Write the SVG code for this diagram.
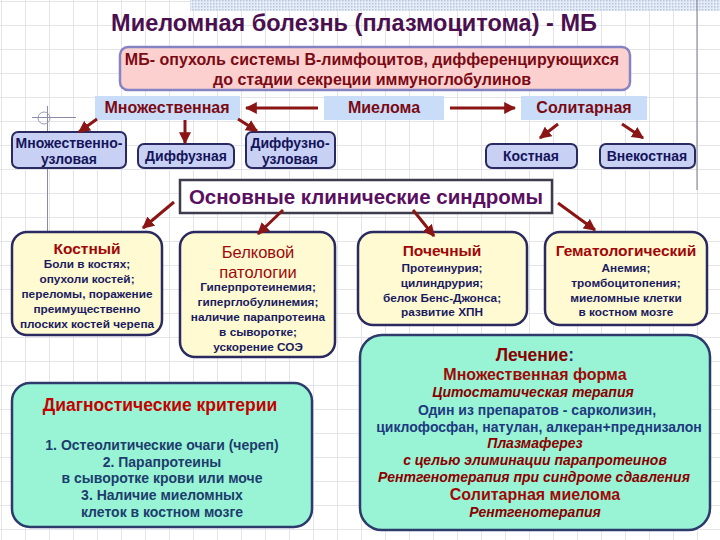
<svg xmlns="http://www.w3.org/2000/svg" width="720" height="540" viewBox="0 0 720 540">
<defs>
<pattern id="grid" width="24" height="24" patternUnits="userSpaceOnUse" x="1" y="1">
<path d="M0 0.5H24M0.5 0V24" stroke="#e4e4ea" stroke-width="1" fill="none"/>
</pattern>
<pattern id="dots" width="3" height="3" patternUnits="userSpaceOnUse">
<rect width="3" height="3" fill="#e6ecf6"/>
<rect width="1.5" height="1.5" fill="#b4c4de"/>
</pattern>
<marker id="ah" viewBox="0 0 10 10" refX="9" refY="5" markerWidth="4" markerHeight="4" orient="auto">
<path d="M0 0L10 5L0 10z" fill="#8b1414"/>
</marker>
<style>
.t{font-family:"Liberation Sans",Arial,sans-serif;text-anchor:middle;font-weight:bold}
.title{font-size:23.5px;fill:#4b0f4f}
.def{font-size:16px;fill:#7a0a14}
.lab{font-size:16px;fill:#7a0a14}
.sub{font-size:14px;fill:#14145a}
.hdr{font-size:20.5px;fill:#5a0f5f}
.st{font-size:15.5px;fill:#a00808}
.sb{font-size:11.8px;fill:#1a1a60}
.dt{font-size:17.5px;fill:#c40000}
.db{font-size:14px;fill:#1e3c6e}
.lr{fill:#8b0000}
.ln{font-size:14px;fill:#1f3a80}
.it{font-style:italic;font-size:14px;fill:#8b0000}
.lbox{fill:#c9dcf8}
.sbox{fill:#c8d0f4;stroke:#2a2a60;stroke-width:2}
.cbox{fill:#fffad2;stroke:#2a2a60;stroke-width:2.5}
.gbox{fill:#98f4d4;stroke:#2c3a6c;stroke-width:2.5}
.ar{stroke:#8b1414;stroke-width:3;fill:none;marker-end:url(#ah)}
</style>
</defs>
<rect width="720" height="540" fill="#ffffff"/>
<rect width="720" height="540" fill="url(#grid)"/>
<rect x="190" y="0" width="530" height="11" fill="url(#dots)"/>
<line x1="697" y1="0" x2="697" y2="190" stroke="#7a7a8a" stroke-width="1"/>
<line x1="32" y1="117.5" x2="76" y2="117.5" stroke="#8a8aa8" stroke-width="1"/>
<line x1="47.5" y1="106" x2="47.5" y2="232" stroke="#8a8aa8" stroke-width="1"/>
<circle cx="44" cy="118" r="6" fill="none" stroke="#9a9ab0" stroke-width="1"/>

<g id="title"><text class="t title" x="354" y="31">Миеломная болезнь (плазмоцитома) - МБ</text></g>

<g id="definition">
<rect x="120" y="47" width="510" height="43" rx="8" fill="#fdd0d0" stroke="#8484c4" stroke-width="2.5"/>
<text class="t def" x="372" y="65">МБ- опухоль системы В-лимфоцитов, дифференцирующихся</text>
<text class="t def" x="372" y="85">до стадии секреции иммуноглобулинов</text>
</g>

<g id="multiple"><rect class="lbox" x="95" y="96" width="145" height="24"/><text class="t lab" x="167" y="113">Множественная</text></g>
<g id="myeloma"><rect class="lbox" x="324" y="96" width="120" height="24"/><text class="t lab" x="384" y="113">Миелома</text></g>
<g id="solitary"><rect class="lbox" x="521" y="96" width="126" height="24"/><text class="t lab" x="584" y="113">Солитарная</text></g>

<g id="multinodular"><rect class="sbox" x="12" y="132" width="114" height="36" rx="6"/><text class="t sub" x="69" y="148">Множественно-</text><text class="t sub" x="69" y="164">узловая</text></g>
<g id="diffuse"><rect class="sbox" x="138" y="144" width="96" height="24" rx="6"/><text class="t sub" x="186" y="161">Диффузная</text></g>
<g id="diffnodular"><rect class="sbox" x="246" y="132" width="89" height="36" rx="6"/><text class="t sub" x="290" y="148">Диффузно-</text><text class="t sub" x="290" y="164">узловая</text></g>
<g id="bone"><rect class="sbox" x="486" y="144" width="91" height="24" rx="6"/><text class="t sub" x="531" y="161">Костная</text></g>
<g id="extrabone"><rect class="sbox" x="600" y="144" width="95" height="24" rx="6"/><text class="t sub" x="647" y="161">Внекостная</text></g>

<g id="syndromes"><rect x="180" y="180" width="372" height="33" fill="#ffffff" stroke="#3c3c4c" stroke-width="2.5"/><text class="t hdr" x="366" y="204">Основные клинические синдромы</text></g>

<g id="s-bone">
<rect class="cbox" x="12" y="232" width="150" height="103" rx="15"/>
<text class="t st" x="87" y="254">Костный</text>
<text class="t sb" x="87" y="268">Боли в костях;</text>
<text class="t sb" x="87" y="283">опухоли костей;</text>
<text class="t sb" x="87" y="298">переломы, поражение</text>
<text class="t sb" x="87" y="313">преимущественно</text>
<text class="t sb" x="87" y="328">плоских костей черепа</text>
</g>
<g id="s-protein">
<rect class="cbox" x="180" y="232" width="155" height="125" rx="15"/>
<text class="t st" x="258" y="258" style="font-weight:normal;font-size:16.5px">Белковой</text>
<text class="t st" x="258" y="278" style="font-weight:normal;font-size:16.5px">патологии</text>
<text class="t sb" x="258" y="291">Гиперпротеинемия;</text>
<text class="t sb" x="258" y="306">гиперглобулинемия;</text>
<text class="t sb" x="258" y="321">наличие парапротеина</text>
<text class="t sb" x="258" y="336">в сыворотке;</text>
<text class="t sb" x="258" y="351">ускорение СОЭ</text>
</g>
<g id="s-renal">
<rect class="cbox" x="358" y="232" width="169" height="93" rx="15"/>
<text class="t st" x="442" y="256">Почечный</text>
<text class="t sb" x="442" y="272">Протеинурия;</text>
<text class="t sb" x="442" y="287">цилиндрурия;</text>
<text class="t sb" x="442" y="302">белок Бенс-Джонса;</text>
<text class="t sb" x="442" y="316">развитие ХПН</text>
</g>
<g id="s-hemat">
<rect class="cbox" x="545" y="232" width="162" height="93" rx="15"/>
<text class="t st" x="626" y="256">Гематологический</text>
<text class="t sb" x="626" y="272">Анемия;</text>
<text class="t sb" x="626" y="287">тромбоцитопения;</text>
<text class="t sb" x="626" y="302">миеломные клетки</text>
<text class="t sb" x="626" y="316">в костном мозге</text>
</g>

<g id="diagnosis">
<rect class="gbox" x="12" y="383" width="300" height="144" rx="18"/>
<text class="t dt" x="160" y="411">Диагностические критерии</text>
<text class="t db" x="162" y="450">1. Остеолитические очаги (череп)</text>
<text class="t db" x="162" y="467">2. Парапротеины</text>
<text class="t db" x="162" y="483">в сыворотке крови или моче</text>
<text class="t db" x="162" y="500">3. Наличие миеломных</text>
<text class="t db" x="162" y="517">клеток в костном мозге</text>
</g>

<g id="treatment">
<rect class="gbox" x="360" y="335" width="350" height="195" rx="22"/>
<text class="t lr" x="535" y="361" style="font-size:17.5px">Лечение<tspan fill="#1f3a80">:</tspan></text>
<text class="t lr" x="535" y="380" style="font-size:16px;fill:#a00808">Множественная форма</text>
<text class="t it" x="533" y="397">Цитостатическая терапия</text>
<text class="t ln" x="537" y="415">Один из препаратов - сарколизин,</text>
<text class="t ln" x="539" y="432">циклофосфан, натулан, алкеран+преднизалон</text>
<text class="t it" x="535" y="448">Плазмаферез</text>
<text class="t it" x="535" y="465">с целью элиминации парапротеинов</text>
<text class="t it" x="534" y="482">Рентгенотерапия при синдроме сдавления</text>
<text class="t lr" x="535" y="500" style="font-size:16px;fill:#a00808">Солитарная миелома</text>
<text class="t it" x="535" y="517">Рентгенотерапия</text>
</g>

<g id="connectors">
<line class="ar" x1="318" y1="108" x2="246" y2="108"/>
<line class="ar" x1="450" y1="108" x2="515" y2="108"/>
<line class="ar" x1="97" y1="119" x2="79" y2="132"/>
<line class="ar" x1="185" y1="120" x2="185" y2="143"/>
<line class="ar" x1="238" y1="119" x2="257" y2="131"/>
<line class="ar" x1="558" y1="124" x2="540" y2="138"/>
<line class="ar" x1="622" y1="124" x2="643" y2="138"/>
<line class="ar" x1="174" y1="202" x2="143" y2="228"/>
<line class="ar" x1="283" y1="210" x2="258" y2="234"/>
<line class="ar" x1="413" y1="210" x2="434" y2="236"/>
<line class="ar" x1="558" y1="203" x2="595" y2="230"/>
</g>
</svg>
